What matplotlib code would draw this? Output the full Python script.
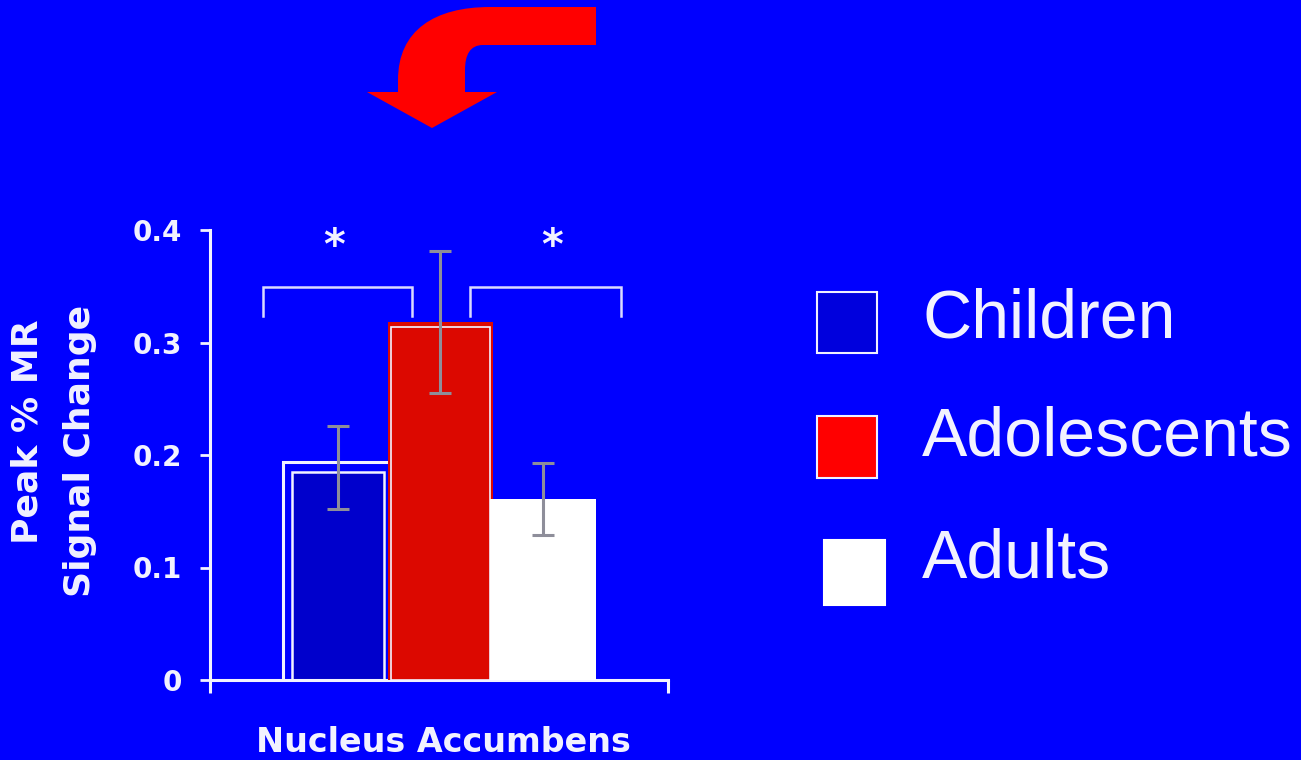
import matplotlib
matplotlib.use("Agg")
import matplotlib.pyplot as plt
from matplotlib.patches import Rectangle, PathPatch
from matplotlib.path import Path

# Data
groups = ["Children", "Adolescents", "Adults"]
means = [0.189, 0.318, 0.161]
errors = [0.037, 0.063, 0.032]
yticks = [0, 0.1, 0.2, 0.3, 0.4]
ytick_labels = ["0", "0.1", "0.2", "0.3", "0.4"]
region_label = "Nucleus Accumbens"
ylabel_lines = ["Peak % MR", "Signal Change"]
# significance brackets: (x_left, x_right, y_top, y_bottom), star x
brackets = [(-0.735, 0.725, 0.349, 0.324, -0.04), (1.29, 2.76, 0.349, 0.324, 2.09)]
star_y = 0.385

BG = "#0000FF"
FG = "#F2F2FF"
fills = ["#0000CC", "#DC0800", "#FFFFFF"]
legend_fills = ["#0000DD", "#FF0000", "#FFFFFF"]
ERR = "#8E8E9A"

W, H = 1301, 760
fig = plt.figure(figsize=(W / 100, H / 100), dpi=100, facecolor=BG)
ax = fig.add_axes([210 / W, 1 - 680 / H, (668 - 210) / W, (680 - 230) / H])
ax.set_facecolor(BG)

x = [0, 1, 2]
bw = 1.03

# Children: inner filled bar with a white double frame
ax.bar(x[0], means[0] - 0.004, width=0.90, color=fills[0], edgecolor=FG,
       linewidth=1.8, zorder=2)
ax.bar(x[0], means[0] + 0.009, bottom=-0.004, width=1.07, fill=False,
       edgecolor=FG, linewidth=2.2, zorder=2)
# Adolescents: red bar with inner white outline
ax.bar(x[1], means[1], width=bw, color=fills[1], linewidth=0, zorder=3)
ax.bar(x[1], means[1] - 0.004, width=bw - 0.06, fill=False, edgecolor=FG,
       linewidth=1.2, zorder=3)
# Adults: plain white bar
ax.bar(x[2], means[2] + 0.003, bottom=-0.003, width=bw, color=fills[2],
       linewidth=0, zorder=4)

ax.errorbar(x, means, yerr=errors, fmt="none", ecolor=ERR, elinewidth=2.2,
            capsize=8, capthick=2.2, zorder=5)

for xl, xr, yt, yb, sx in brackets:
    ax.plot([xl, xl, xr, xr], [yb, yt, yt, yb], color="#DADAFF", lw=1.8,
            solid_joinstyle="miter", zorder=6, clip_on=False)
    ax.text(sx, star_y, "*", color=FG, fontsize=30, ha="center", va="center",
            fontweight="bold", zorder=6)

ax.set_xlim(-1.249, 3.22)
ax.set_ylim(0, 0.4)
for s in ["top", "right"]:
    ax.spines[s].set_visible(False)
for s in ["left", "bottom"]:
    ax.spines[s].set_color(FG)
    ax.spines[s].set_linewidth(2.2)
ax.set_yticks(yticks)
ax.set_yticklabels(ytick_labels)
ax.set_xticks([-1.249, 3.22])
ax.set_xticklabels([])
ax.tick_params(axis="y", colors=FG, direction="out", length=7, width=2,
               labelsize=20, pad=13)
for lab in ax.get_yticklabels():
    lab.set_fontweight("bold")
ax.tick_params(axis="x", colors=FG, direction="out", length=9, width=2.2)

fig.text(443 / W, 1 - 742 / H, region_label, color=FG, fontsize=24,
         fontweight="bold", ha="center", va="center")
fig.text(28 / W, 1 - 432 / H, ylabel_lines[0], color=FG, fontsize=26,
         fontweight="bold", rotation=90, ha="center", va="center")
fig.text(80 / W, 1 - 451 / H, ylabel_lines[1], color=FG, fontsize=26,
         fontweight="bold", rotation=90, ha="center", va="center")

# Legend drawn as squares and labels
sq = [(817, 292, 60, 61), (817, 416, 60, 62), (824, 540, 61, 65)]
baselines = [337, 455, 578]
for (lx, ly, lw_, lh), fc, name, bl in zip(sq, legend_fills, groups, baselines):
    ec = "#F0F0FF" if fc != "#FFFFFF" else "#FFFFFF"
    fig.patches.append(Rectangle((lx / W, 1 - (ly + lh) / H), lw_ / W, lh / H,
                                 transform=fig.transFigure, facecolor=fc,
                                 edgecolor=ec, linewidth=1.5))
    fig.text(922 / W, 1 - bl / H, name, color=FG, fontsize=49,
             family="Liberation Sans", ha="left", va="baseline")

# Curved arrow pointing down at the adolescent bar
pts = [(596, 7), (596, 45), (483, 45), (470, 45), (465, 55), (465, 70),
       (465, 92), (497, 92), (432, 128), (367, 92), (398, 92), (398, 80),
       (398, 30), (435, 7), (490, 7), (596, 7)]
codes = [Path.MOVETO, Path.LINETO, Path.LINETO, Path.CURVE4, Path.CURVE4, Path.CURVE4,
         Path.LINETO, Path.LINETO, Path.LINETO, Path.LINETO, Path.LINETO, Path.LINETO,
         Path.CURVE4, Path.CURVE4, Path.CURVE4, Path.CLOSEPOLY]
arrow = Path([(px / W, 1 - py / H) for px, py in pts], codes)
fig.patches.append(PathPatch(arrow, transform=fig.transFigure, facecolor="#FF0000",
                             edgecolor="none"))

fig.savefig("out.png", dpi=100, facecolor=BG)
